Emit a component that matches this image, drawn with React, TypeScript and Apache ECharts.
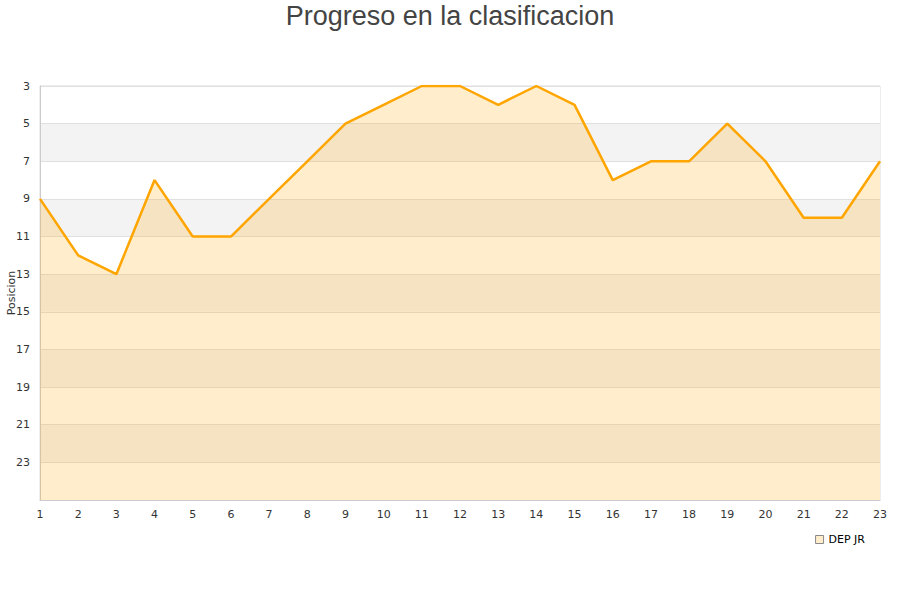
import React, { useEffect, useRef } from "react";
import * as echarts from "echarts";

const jornadas = ["1","2","3","4","5","6","7","8","9","10","11","12","13","14","15","16","17","18","19","20","21","22","23"];
const posiciones = [9, 12, 13, 8, 11, 11, 9, 7, 5, 4, 3, 3, 4, 3, 4, 8, 7, 7, 5, 7, 10, 10, 7];
const equipo = "DEP JR";
const titulo = "Progreso en la clasificacion";
const nombreEjeY = "Posicion";

export default function App() {
  const ref = useRef<HTMLDivElement>(null);
  useEffect(() => {
    const chart = echarts.init(ref.current!, null, { renderer: "svg" });
    chart.setOption({
      animation: false,
      graphic: [
        {
          type: "text",
          x: 450,
          y: 16,
          style: { text: titulo, align: "center", verticalAlign: "middle", fontSize: 27, fill: "#444", fontFamily: "Liberation Sans" },
        },
        {
          type: "text",
          x: 11,
          y: 293,
          rotation: Math.PI / 2,
          style: { text: nombreEjeY, align: "center", verticalAlign: "middle", fontSize: 11, fill: "#333", fontFamily: "DejaVu Sans" },
        },
      ],
      grid: { left: 40, right: 20, top: 86, bottom: 100, show: true, borderColor: "#dcdcdc", borderWidth: 1, outerBoundsMode: "none", containLabel: false },
      legend: {
        right: 30,
        top: 529,
        icon: "rect",
        itemWidth: 8,
        itemHeight: 8,
        textStyle: { fontFamily: "DejaVu Sans", fontSize: 11, color: "#000" },
        data: [{ name: equipo, itemStyle: { color: "#FFEDCC", borderColor: "#888", borderWidth: 1 } }],
      },
      xAxis: {
        type: "category",
        data: jornadas,
        boundaryGap: false,
        axisLine: { lineStyle: { color: "#ccc" } },
        axisTick: { show: false },
        axisLabel: { color: "#333", fontFamily: "DejaVu Sans", fontSize: 11, margin: 9 },
        splitLine: { show: false },
      },
      yAxis: {
        type: "value",
        inverse: true,
        min: 3,
        max: 25,
        interval: 2,
        axisLine: { show: true, lineStyle: { color: "#ccc" } },
        axisTick: { show: false },
        axisLabel: { color: "#333", fontFamily: "DejaVu Sans", fontSize: 11, showMaxLabel: false, margin: 10 },
        splitLine: { show: true, lineStyle: { color: "#e0e0e0" } },
        splitArea: { show: true, areaStyle: { color: ["#ffffff", "#f3f3f3"] } },
      },
      series: [
        {
          name: equipo,
          type: "line",
          data: posiciones,
          showSymbol: false,
          symbol: "none",
          lineStyle: { color: "#FFA500", width: 2.5 },
          itemStyle: { color: "#FFA500" },
          areaStyle: { color: "#FFA500", opacity: 0.2, origin: "end" },
        },
      ],
    });
    return () => chart.dispose();
  }, []);
  return <div ref={ref} style={{ width: 900, height: 600, position: "absolute", left: 0, top: 0 }} />;
}
